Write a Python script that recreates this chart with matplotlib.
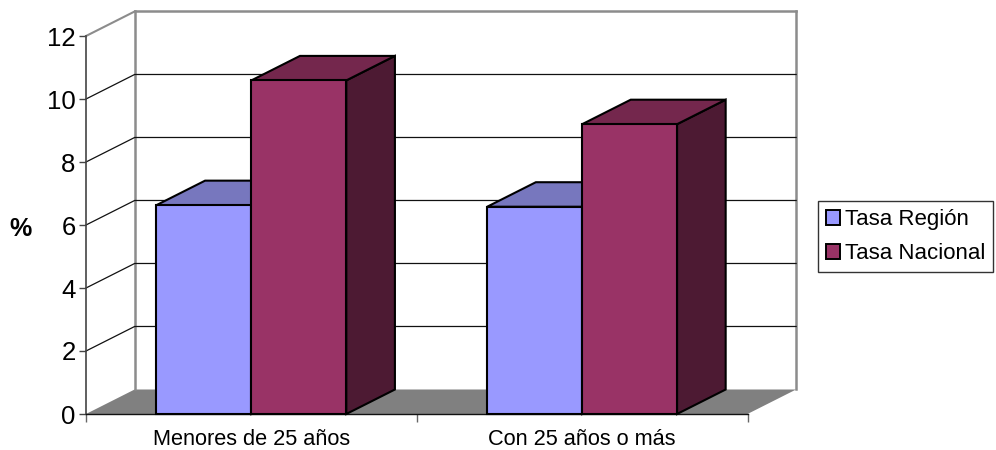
# 3D style clustered columns, drawn as flat polygons on a normal axes
import matplotlib
matplotlib.use('Agg')
import matplotlib.pyplot as plt
from matplotlib.patches import Polygon, Patch

plt.rcParams['font.family'] = ['Liberation Sans', 'DejaVu Sans']

# data
categories = ['Menores de 25 años', 'Con 25 años o más']
tasa_region = [6.63, 6.58]
tasa_nacional = [10.59, 9.2]
y_ticks = [0, 2, 4, 6, 8, 10, 12]

# depth of the fake 3D, in data units
DX = 0.147
DY = 0.778
BAR_W = 0.287
W, H = 996, 450


def box(ax, x0, x1, v, front, top, side):
    # side, top, then front so the front edges stay on top
    lw = 1.5
    ax.add_patch(Polygon([(x1, 0), (x1 + DX, DY), (x1 + DX, v + DY), (x1, v)],
                         fc=side, ec='black', lw=lw, clip_on=False, zorder=4, joinstyle='miter'))
    ax.add_patch(Polygon([(x0, v), (x0 + DX, v + DY), (x1 + DX, v + DY), (x1, v)],
                         fc=top, ec='black', lw=lw, clip_on=False, zorder=4, joinstyle='miter'))
    ax.add_patch(Polygon([(x0, 0), (x0, v), (x1, v), (x1, 0)],
                         fc=front, ec='black', lw=lw, clip_on=False, zorder=4, joinstyle='miter'))


fig = plt.figure(figsize=(W / 100, H / 100), dpi=100)
ax = fig.add_axes([86 / W, 1 - 414 / H, 661.5 / W, 378 / H])
ax.set_xlim(0, 2)
ax.set_ylim(0, 12)
ax.patch.set_visible(False)

# floor
ax.add_patch(Polygon([(0, 0), (DX, DY), (2 + DX, DY), (2, 0)], fc='#808080', ec='none',
                     clip_on=False, zorder=1))

# back wall
ax.plot([DX, DX], [DY, 12 + DY], color='#8c8c8c', lw=1.8, clip_on=False, zorder=2)
ax.plot([2 + DX, 2 + DX], [DY, 12 + DY], color='#8c8c8c', lw=1.8, clip_on=False, zorder=2)
ax.plot([DX, 2 + DX], [12 + DY, 12 + DY], color='#8c8c8c', lw=1.8, clip_on=False, zorder=2)
ax.plot([0, DX], [12, 12 + DY], color='#8c8c8c', lw=1.5, clip_on=False, zorder=2)

# gridlines on the side and back wall
for t in y_ticks[1:-1]:
    ax.plot([0, DX, 2 + DX], [t, t + DY, t + DY], color='#111111', lw=0.9, clip_on=False, zorder=2)

# columns
for i in range(len(categories)):
    c = i + 0.5
    box(ax, c - BAR_W, c, tasa_region[i], '#9999ff', '#7777be', '#4d4d80')
    box(ax, c, c + BAR_W, tasa_nacional[i], '#993366', '#74274d', '#4d1a33')

# axes
for s in ['top', 'right']:
    ax.spines[s].set_visible(False)
ax.spines['left'].set_color('#444444')
ax.spines['left'].set_linewidth(1.2)
ax.spines['bottom'].set_color('#111111')
ax.spines['bottom'].set_linewidth(1.0)
ax.spines['bottom'].set_zorder(3)

ax.set_yticks(y_ticks)
ax.tick_params(axis='y', labelsize=18.5, length=5, width=1, color='#444444', pad=2.5)
ax.set_xticks([0, 1, 2])
ax.set_xticklabels([])
ax.tick_params(axis='x', length=6, width=1, color='#666666')
ax.set_xticks([0.5, 1.5], minor=True)
ax.set_xticklabels(categories, minor=True, fontsize=15.7)
ax.tick_params(axis='x', which='minor', length=0, pad=11)

ax.set_ylabel('%', rotation=0, fontsize=18, fontweight='bold')
ax.yaxis.set_label_coords(-65 / 661.5, 0.49)
ax.yaxis.label.set_verticalalignment('center')

# legend
handles = [Patch(fc='#9999ff', ec='black', lw=1.4, label='Tasa Región'),
           Patch(fc='#993366', ec='black', lw=1.4, label='Tasa Nacional')]
fig.legend(handles=handles, loc='upper left', bbox_to_anchor=(818 / W, 1 - 201 / H),
           fontsize=16, fancybox=False, framealpha=1, edgecolor='#333333',
           borderaxespad=0, borderpad=0.36, labelspacing=0.6,
           handlelength=0.64, handleheight=0.64, handletextpad=0.22)

fig.savefig('out.png', dpi=100)
